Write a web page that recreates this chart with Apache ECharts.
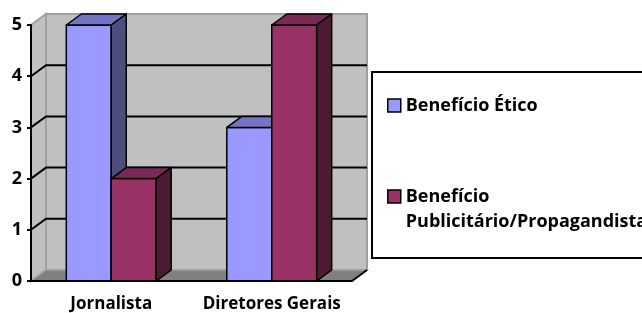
<!DOCTYPE html>
<html>
<head>
<meta charset="utf-8">
<script src="https://cdn.jsdelivr.net/npm/echarts@6/dist/echarts.min.js"></script>
<style>
html, body { margin: 0; padding: 0; background: #fff; }
#chart { width: 642px; height: 313px; }
</style>
</head>
<body>
<div id="chart"></div>
<script>
// dados
var categories = ["Jornalista", "Diretores Gerais"];
var seriesNames = ["Benefício Ético", "Benefício Publicitário/Propagandista"];
var eticoValues = [5, 3];
var publicitarioValues = [2, 5];
var yTicks = [0, 1, 2, 3, 4, 5];

// profundidade do efeito 3D (px)
var DX = 15, DY = 11;
var FONT = "Open Sans";
var faceColors = [
    { front: "#9999ff", top: "#7474c4", side: "#4d4d80" },
    { front: "#993366", top: "#7a2a55", side: "#4d1a33" }
];

function barRenderer(s) {
    return function (params, api) {
        var cat = api.value(0), val = api.value(1);
        var base = api.coord([cat, 0]);
        var top = api.coord([cat, val]);
        var bw = api.size([1, 0])[0] * 0.28;
        var x0 = base[0] + (s - 1) * bw, x1 = x0 + bw;
        var yb = base[1], yt = top[1];
        var c = faceColors[s];
        function st(fill) {
            return { fill: fill, stroke: "#000", lineWidth: 1.5, lineJoin: "round" };
        }
        return {
            type: "group",
            children: [
                { type: "polygon", shape: { points: [[x0, yb], [x1, yb], [x1, yt], [x0, yt]] }, style: st(c.front) },
                { type: "polygon", shape: { points: [[x0, yt], [x1, yt], [x1 + DX, yt - DY], [x0 + DX, yt - DY]] }, style: st(c.top) },
                { type: "polygon", shape: { points: [[x1, yb], [x1 + DX, yb - DY], [x1 + DX, yt - DY], [x1, yt]] }, style: st(c.side) }
            ]
        };
    };
}

function wallsRenderer(params, api) {
    var bandW = api.size([1, 0])[0];
    var xl = api.coord([0, 0])[0] - bandW / 2;
    var xr = api.coord([categories.length - 1, 0])[0] + bandW / 2;
    var y0 = api.coord([0, yTicks[0]])[1];
    var yTop = api.coord([0, yTicks[yTicks.length - 1]])[1];
    var kids = [
        { type: "polygon", shape: { points: [[xl + DX, yTop - DY], [xr + DX, yTop - DY], [xr + DX, y0 - DY], [xl + DX, y0 - DY]] },
          style: { fill: "#c0c0c0", stroke: "#a0a0a0", lineWidth: 2 } },
        { type: "polygon", shape: { points: [[xl, yTop], [xl + DX, yTop - DY], [xl + DX, y0 - DY], [xl, y0]] },
          style: { fill: "#c0c0c0", stroke: "#a0a0a0", lineWidth: 2 } },
        { type: "polygon", shape: { points: [[xl, y0], [xr, y0], [xr + DX, y0 - DY], [xl + DX, y0 - DY]] },
          style: { fill: "#808080", stroke: "#a0a0a0", lineWidth: 1.5 } },
        { type: "line", shape: { x1: xr, y1: y0, x2: xr + DX, y2: y0 - DY },
          style: { stroke: "#000", lineWidth: 2 } }
    ];
    for (var i = 1; i < yTicks.length - 1; i++) {
        var y = api.coord([0, yTicks[i]])[1];
        kids.push({ type: "polyline", shape: { points: [[xl, y], [xl + DX, y - DY], [xr + DX, y - DY]] },
            style: { stroke: "#000", lineWidth: 2, fill: null } });
    }
    return { type: "group", children: kids };
}

var chart = echarts.init(document.getElementById("chart"));
chart.setOption({
    backgroundColor: "#fff",
    animation: false,
    grid: { left: 31, right: 290, top: 25, bottom: 32 },
    legend: {
        orient: "vertical",
        left: 372, top: 72,
        padding: [21, 20, 24, 15],
        borderColor: "#000", borderWidth: 2,
        backgroundColor: "#fff",
        itemWidth: 13, itemHeight: 13,
        itemGap: 41,
        itemStyle: { borderColor: "#000", borderWidth: 1.5 },
        textStyle: { fontFamily: FONT, fontWeight: "bold", fontSize: 18, color: "#000", lineHeight: 25 },
        formatter: function (name) {
            // linha vazia no início para alinhar "Benefício" com o ícone
            return name === seriesNames[1] ? "\nBenefício\nPublicitário/Propagandista" : name;
        },
        data: [
            { name: seriesNames[0], icon: "rect" },
            { name: seriesNames[1], icon: "rect" }
        ]
    },
    xAxis: {
        type: "category",
        data: categories,
        z: 5,
        axisLine: { lineStyle: { color: "#000", width: 2 } },
        axisTick: { length: 5, lineStyle: { color: "#000", width: 2 } },
        axisLabel: { interval: 0, fontFamily: FONT, fontWeight: "bold", fontSize: 17, color: "#000", margin: 15 }
    },
    yAxis: {
        type: "value",
        min: 0, max: 5, interval: 1,
        z: 5,
        axisLine: { show: true, lineStyle: { color: "#000", width: 2 } },
        axisTick: { show: true, length: 4, lineStyle: { color: "#000", width: 2 } },
        splitLine: { show: false },
        axisLabel: { fontFamily: FONT, fontWeight: "bold", fontSize: 18, color: "#000", margin: 9 }
    },
    series: [
        { type: "custom", name: "paredes", silent: true, z: 1, data: [[0, 0]], renderItem: wallsRenderer, encode: { x: 0, y: 1 } },
        { type: "custom", name: seriesNames[0], z: 2, itemStyle: { color: faceColors[0].front },
          data: eticoValues.map(function (v, i) { return [i, v]; }), renderItem: barRenderer(0), encode: { x: 0, y: 1 } },
        { type: "custom", name: seriesNames[1], z: 3, itemStyle: { color: faceColors[1].front },
          data: publicitarioValues.map(function (v, i) { return [i, v]; }), renderItem: barRenderer(1), encode: { x: 0, y: 1 } }
    ]
});
</script>
</body>
</html>
